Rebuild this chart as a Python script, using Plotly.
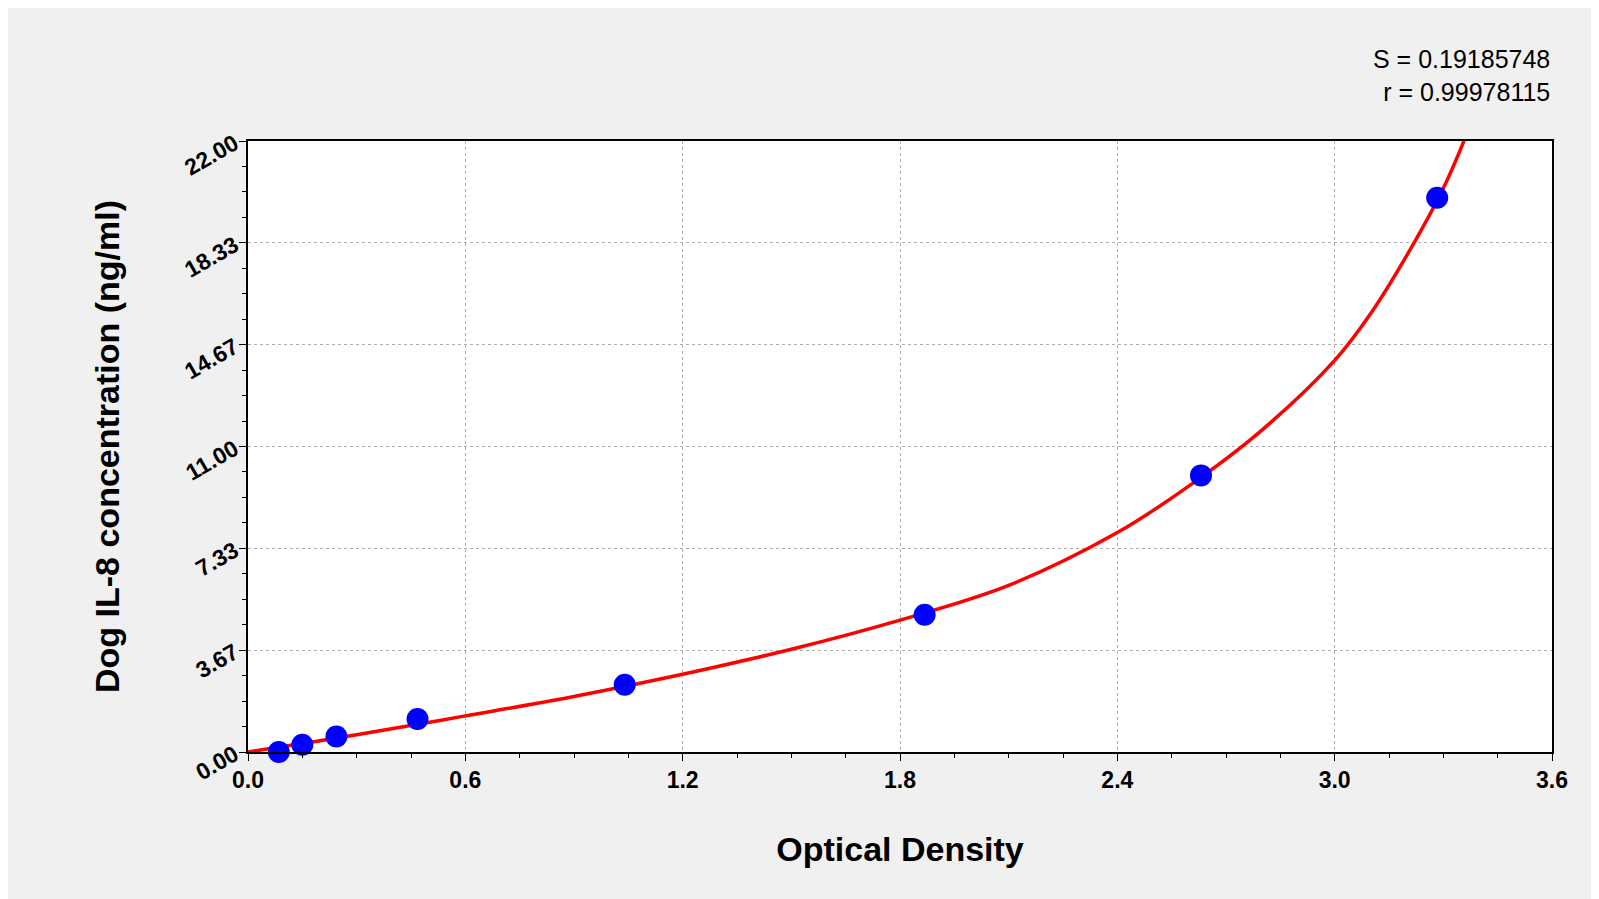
import plotly.graph_objects as go

od = [0.085, 0.150, 0.244, 0.468, 1.040, 1.868, 2.631, 3.283]
conc = [0.0, 0.26, 0.56, 1.19, 2.42, 4.94, 9.96, 19.96]
curve_x = [0.0, 0.3, 0.6, 0.9, 1.2, 1.5, 1.8, 2.1, 2.4, 2.6, 2.8, 3.0, 3.1, 3.2, 3.3, 3.36]
curve_y = [0.0, 0.62, 1.3, 2.0, 2.8, 3.7, 4.75, 6.0, 7.9, 9.6, 11.6, 14.1, 15.8, 17.9, 20.3, 22.1]
yticks = [0, 3.67, 7.33, 11.0, 14.67, 18.33, 22.0]
ytext = ["0.00", "3.67", "7.33", "11.00", "14.67", "18.33", "22.00"]

fig = go.Figure()
fig.add_trace(go.Scatter(x=curve_x, y=curve_y, mode="lines", line=dict(color="#ff0000", width=3.5, shape="spline"), cliponaxis=False))
fig.add_trace(go.Scatter(x=od, y=conc, mode="markers", marker=dict(color="#0000ff", size=22), cliponaxis=False))

axcommon = dict(showline=True, linecolor="black", linewidth=1.5, mirror=True, ticks="outside",
                ticklen=7, tickcolor="black", showgrid=True, gridcolor="#b0b0b0", griddash="dot",
                zeroline=False, tickfont=dict(family="Liberation Sans", size=23, color="black", weight="bold"))
fig.update_xaxes(range=[0, 3.6], tickvals=[0, 0.6, 1.2, 1.8, 2.4, 3.0, 3.6], tickformat=".1f",
                 minor=dict(dtick=0.15, ticks="outside", ticklen=4, tickcolor="black", showgrid=False),
                 title=dict(text="Optical Density", font=dict(family="Liberation Sans", size=34, color="black", weight="bold"), standoff=45),
                 **axcommon)
fig.update_yaxes(range=[0, 22], tickvals=yticks, ticktext=ytext, tickangle=-30,
                 minor=dict(dtick=22/24, ticks="outside", ticklen=4, tickcolor="black", showgrid=False),
                 title=dict(text="Dog IL-8 concentration (ng/ml)", font=dict(family="Liberation Sans", size=34, color="black", weight="bold"), standoff=50),
                 **axcommon)
fig.add_annotation(xref="paper", yref="paper", x=1.0, y=1.16, xanchor="right", showarrow=False, align="right",
                   text="S = 0.19185748<br>r = 0.99978115", font=dict(family="Liberation Sans", size=25, color="black"))
fig.update_layout(width=1599, height=899, paper_bgcolor="#f0f0f0", plot_bgcolor="white", showlegend=False,
                  margin=dict(l=240, r=55, t=133, b=155))
fig.write_html("out.html")
